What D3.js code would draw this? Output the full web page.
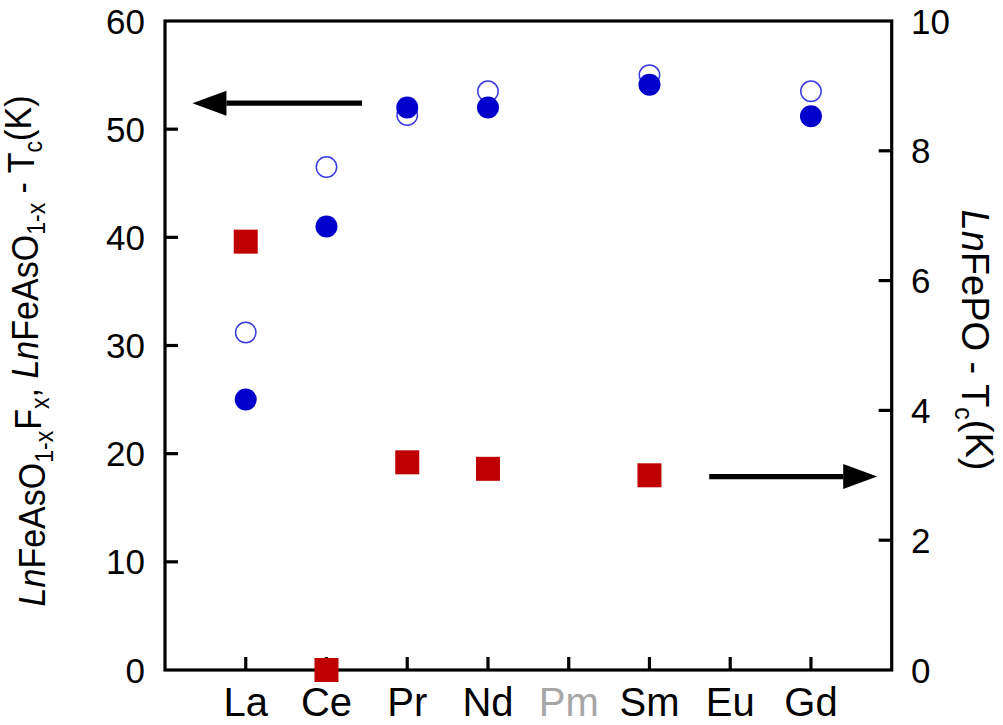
<!DOCTYPE html>
<html><head><meta charset="utf-8">
<script src="https://cdn.jsdelivr.net/npm/d3@7"></script>
<style>body{margin:0;background:#fff}svg{display:block}text{font-family:"Liberation Sans",Arial,sans-serif}</style>
</head><body><svg id="c" width="1003" height="725"></svg>
<script>
const categories = ["La","Ce","Pr","Nd","Pm","Sm","Eu","Gd"];
const leftTicks = [0,10,20,30,40,50,60];
const rightTicks = [0,2,4,6,8,10];
// LnFeAsO1-xFx (filled), left axis
const filledCat = ["La","Ce","Pr","Nd","Sm","Gd"];
const filledVal = [25.0,41.0,52.0,52.0,54.1,51.2];
// LnFeAsO1-x (open), left axis
const openCat = ["La","Ce","Pr","Nd","Sm","Gd"];
const openVal = [31.2,46.5,51.3,53.5,55.0,53.5];
// LnFePO (squares), right axis
const sqCat = ["La","Ce","Pr","Nd","Sm"];
const sqVal = [6.6,0.0,3.2,3.1,3.0];

const svg = d3.select("#c");
const L=165,R=891.7,T=21,B=670;
const x = d3.scaleLinear().domain([0,9]).range([L,R]);
const xi = c => x(categories.indexOf(c)+1);
const yL = d3.scaleLinear().domain([0,60]).range([B,T]);
const yR = d3.scaleLinear().domain([0,10]).range([B,T]);

// axes
const ax = svg.append("g").attr("stroke","#000").attr("stroke-width",3.2).attr("fill","none");
ax.append("rect").attr("x",L).attr("y",T).attr("width",R-L).attr("height",B-T);
leftTicks.forEach(t=>{ if(t>0&&t<60) ax.append("line").attr("x1",L).attr("x2",L+13).attr("y1",yL(t)).attr("y2",yL(t)); });
rightTicks.forEach(t=>{ if(t>0&&t<10) ax.append("line").attr("x1",R).attr("x2",R-13).attr("y1",yR(t)).attr("y2",yR(t)); });
categories.forEach(c=>ax.append("line").attr("x1",xi(c)).attr("x2",xi(c)).attr("y1",B).attr("y2",B-13));

leftTicks.forEach(t=>svg.append("text").attr("x",145).attr("y",yL(t)).attr("dy","0.36em")
  .attr("text-anchor","end").attr("font-size",35).text(t));
rightTicks.forEach(t=>svg.append("text").attr("x",911).attr("y",yR(t)).attr("dy","0.36em")
  .attr("text-anchor","start").attr("font-size",35).text(t));
categories.forEach(c=>svg.append("text").attr("x",xi(c)).attr("y",716)
  .attr("text-anchor","middle").attr("font-size",40).attr("fill",c==="Pm"?"#a6a6a6":"#000").text(c));

// axis titles
const lt = svg.append("text").attr("transform","translate(45,351) rotate(-90) scale(0.92,1)")
  .attr("text-anchor","middle").attr("font-size",37);
const sub=(t,s,dy)=>t.append("tspan").attr("font-size",25).attr("dy",dy).text(s);
lt.append("tspan").attr("font-style","italic").text("Ln");
lt.append("tspan").text("FeAsO");
sub(lt,"1-x","0.3em");
lt.append("tspan").attr("dy","-0.3em").attr("dx","1").text("F");
sub(lt,"x","0.3em");
lt.append("tspan").attr("dy","-0.3em").text(", ");
lt.append("tspan").attr("font-style","italic").text("Ln");
lt.append("tspan").text("FeAsO");
sub(lt,"1-x","0.3em");
lt.append("tspan").attr("dy","-0.3em").text(" - T");
sub(lt,"c","0.3em");
lt.append("tspan").attr("dy","-0.3em").text("(K)");

const rt = svg.append("text").attr("transform","translate(962,340) rotate(90)")
  .attr("text-anchor","middle").attr("font-size",38);
rt.append("tspan").attr("font-style","italic").text("Ln");
rt.append("tspan").text("FePO - T");
sub(rt,"c","0.3em");
rt.append("tspan").attr("dy","-0.3em").text("(K)");

// arrows
function arrow(x0,x1,yv){
  const g=svg.append("g");
  const dir = Math.sign(x1-x0);
  const xb = x1 - dir*34;
  g.append("line").attr("x1",x0).attr("x2",xb).attr("y1",yv).attr("y2",yv).attr("stroke","#000").attr("stroke-width",5.3);
  g.append("path").attr("d",`M${x1},${yv}L${xb},${yv-12.5}L${xb},${yv+12.5}Z`).attr("fill","#000");
}
arrow(x(2.44),x(0.34),yL(52.4));
arrow(x(6.74),x(8.82),yR(2.98));

// data
svg.append("g").selectAll("rect").data(sqCat).join("rect")
  .attr("x",(d)=>xi(d)-12).attr("y",(d,i)=>yR(sqVal[i])-12).attr("width",24).attr("height",24).attr("fill","#c00000");
svg.append("g").selectAll("circle").data(openCat).join("circle")
  .attr("cx",d=>xi(d)).attr("cy",(d,i)=>yL(openVal[i])).attr("r",10.2)
  .attr("fill","none").attr("stroke","#3a3ae0").attr("stroke-width",1.5);
svg.append("g").selectAll("circle").data(filledCat).join("circle")
  .attr("cx",d=>xi(d)).attr("cy",(d,i)=>yL(filledVal[i])).attr("r",11)
  .attr("fill","#0000cc");
</script></body></html>
